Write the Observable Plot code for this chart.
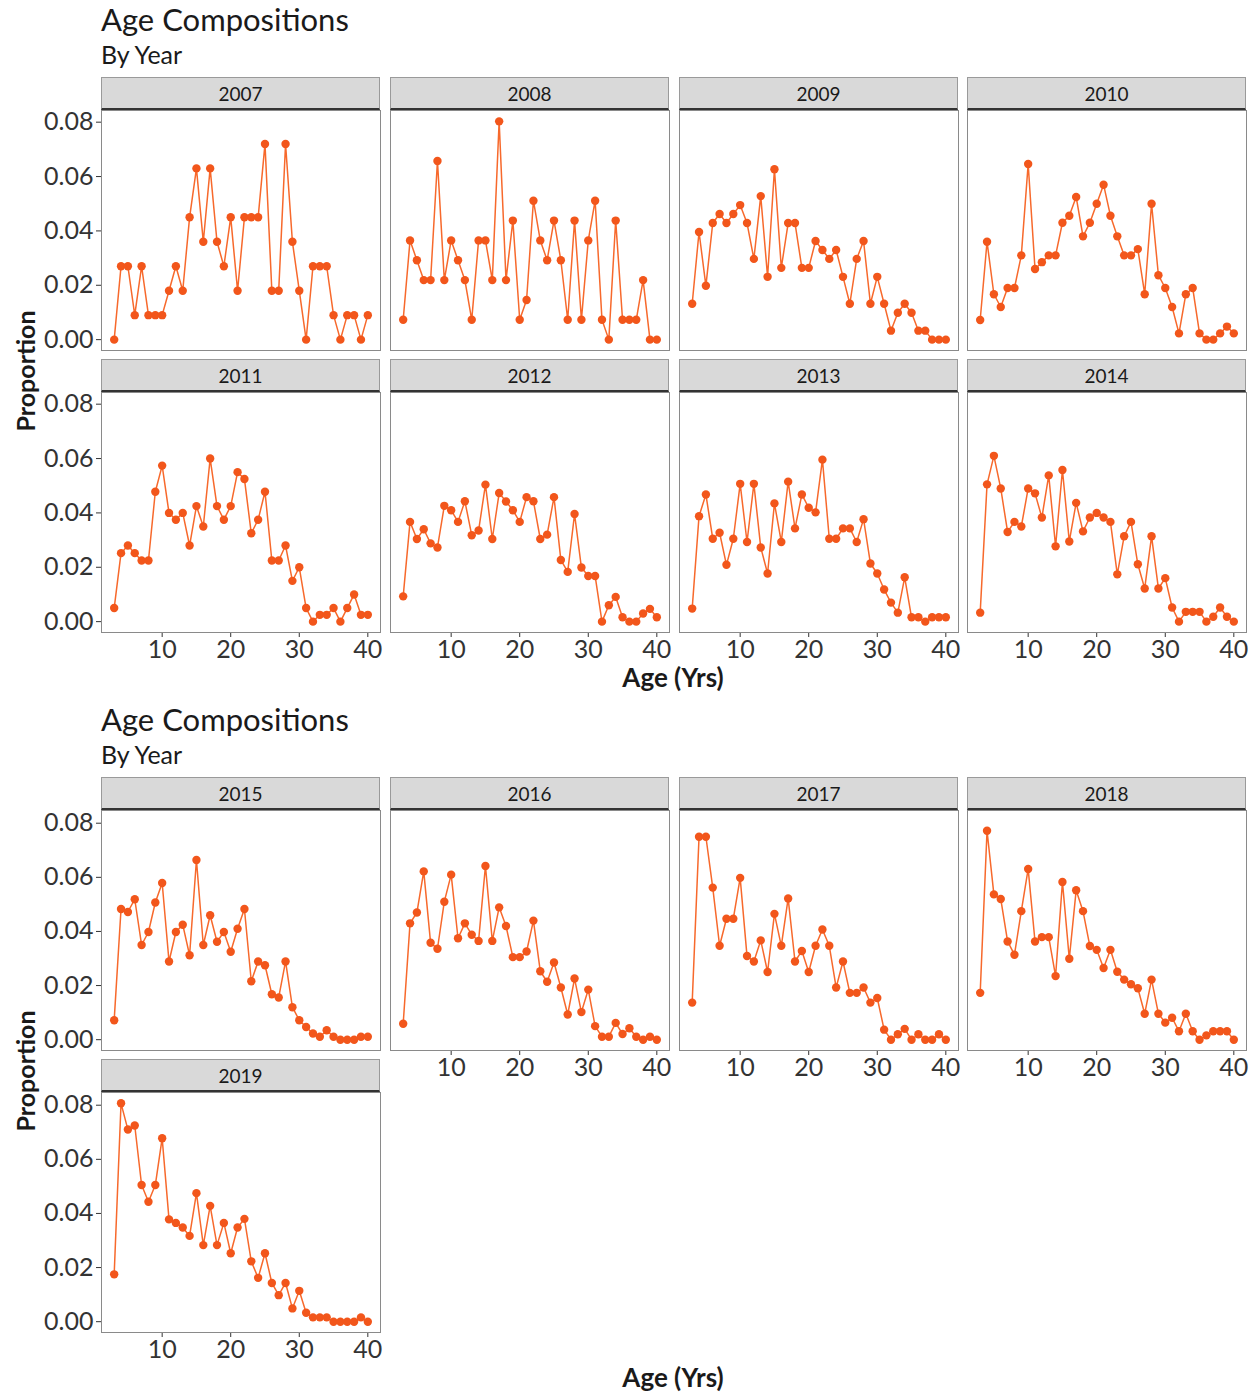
<!DOCTYPE html>
<html><head><meta charset="utf-8">
<script src="https://cdn.jsdelivr.net/npm/d3@7"></script>
<script src="https://cdn.jsdelivr.net/npm/@observablehq/plot@0.6"></script>
<style>
body{margin:0;background:#fff;}
#fig{position:relative;width:1257px;height:1395px;font-family:Lato,sans-serif;color:#1a1a1a;overflow:hidden;background:#fff}
.abs{position:absolute;white-space:nowrap}
.title{font-size:31px;line-height:31px;color:#1a1a1a}
.sub{font-size:25px;line-height:25px;color:#1a1a1a}
.strip{box-sizing:border-box;background:#d9d9d9;border:1px solid #9a9a9a;border-bottom:2px solid #333;font-size:19px;text-align:center;line-height:31px;color:#1a1a1a}
.ylab{font-size:25px;font-weight:bold;transform:translate(-50%,-50%) rotate(-90deg)}
.xlab{font-size:26px;font-weight:bold;transform:translate(-50%,-50%)}
</style></head><body><div id="fig"></div>
<script>
const ages = [3,4,5,6,7,8,9,10,11,12,13,14,15,16,17,18,19,20,21,22,23,24,25,26,27,28,29,30,31,32,33,34,35,36,37,38,39,40];
const xTicks = [10,20,30,40];
const yTicks = [0,0.02,0.04,0.06,0.08];

const p2007 = [0,0.027,0.027,0.009,0.027,0.009,0.009,0.009,0.018,0.027,0.018,0.045,0.063,0.036,0.063,0.036,0.027,0.045,0.018,0.045,0.045,0.045,0.072,0.018,0.018,0.072,0.036,0.018,0,0.027,0.027,0.027,0.009,0,0.009,0.009,0,0.009];
const p2008 = [0.0073,0.0365,0.0292,0.0219,0.0219,0.0657,0.0219,0.0365,0.0292,0.0219,0.0073,0.0365,0.0365,0.0219,0.0803,0.0219,0.0438,0.0073,0.0146,0.0511,0.0365,0.0292,0.0438,0.0292,0.0073,0.0438,0.0073,0.0365,0.0511,0.0073,0,0.0438,0.0073,0.0073,0.0073,0.0219,0,0];
const p2009 = [0.0132,0.0396,0.0198,0.0429,0.0462,0.0429,0.0462,0.0495,0.0429,0.0297,0.0528,0.0231,0.0627,0.0264,0.0429,0.0429,0.0264,0.0264,0.0363,0.033,0.0297,0.033,0.0231,0.0132,0.0297,0.0363,0.0132,0.0231,0.0132,0.0033,0.0099,0.0132,0.0099,0.0033,0.0033,0,0,0];
const p2010 = [0.0072,0.036,0.0167,0.012,0.019,0.019,0.031,0.0646,0.026,0.0285,0.031,0.031,0.043,0.0456,0.0525,0.038,0.043,0.05,0.057,0.0456,0.038,0.031,0.031,0.0333,0.0167,0.05,0.0237,0.019,0.012,0.0023,0.0167,0.019,0.0023,0,0,0.0023,0.0048,0.0023];
const p2011 = [0.005,0.0252,0.028,0.0252,0.0225,0.0225,0.0478,0.0574,0.04,0.0375,0.04,0.028,0.0425,0.035,0.06,0.0425,0.0375,0.0425,0.055,0.0525,0.0325,0.0375,0.0478,0.0225,0.0225,0.028,0.015,0.02,0.005,0,0.0025,0.0025,0.005,0,0.005,0.01,0.0025,0.0025];
const p2012 = [0.0093,0.0367,0.0304,0.034,0.0288,0.0273,0.0426,0.041,0.0367,0.0443,0.0318,0.0335,0.0504,0.0304,0.0473,0.0442,0.041,0.0367,0.0458,0.0443,0.0304,0.032,0.0458,0.0227,0.0183,0.0396,0.0199,0.0168,0.0168,0,0.006,0.0091,0.0016,0,0,0.003,0.0047,0.0016];
const p2013 = [0.0048,0.0388,0.0468,0.0305,0.0327,0.0209,0.0305,0.0507,0.0293,0.0507,0.0273,0.0177,0.0435,0.0293,0.0515,0.0343,0.0468,0.0419,0.0402,0.0596,0.0305,0.0305,0.0343,0.0343,0.0293,0.0377,0.0214,0.0177,0.0118,0.007,0.0033,0.0163,0.0016,0.0016,0,0.0016,0.0016,0.0016];
const p2014 = [0.0033,0.0505,0.061,0.049,0.033,0.0367,0.035,0.049,0.0472,0.0383,0.0538,0.0277,0.0558,0.0295,0.0437,0.0332,0.0383,0.04,0.0383,0.0367,0.0174,0.0314,0.0367,0.0211,0.0122,0.0314,0.0122,0.016,0.0052,0,0.0036,0.0036,0.0036,0,0.0018,0.0052,0.0018,0];
const p2015 = [0.0072,0.0483,0.0472,0.0519,0.035,0.0398,0.0507,0.0579,0.0289,0.0398,0.0425,0.0312,0.0664,0.035,0.046,0.0362,0.0398,0.0325,0.041,0.0483,0.0216,0.0289,0.0275,0.0168,0.0156,0.0289,0.012,0.0072,0.0047,0.0023,0.0011,0.0035,0.0011,0,0,0,0.0011,0.0011];
const p2016 = [0.0059,0.043,0.047,0.0622,0.0358,0.0336,0.051,0.061,0.0375,0.043,0.0388,0.0365,0.0642,0.0365,0.0489,0.042,0.0305,0.0305,0.0326,0.044,0.0253,0.0214,0.0285,0.0193,0.0093,0.0226,0.0102,0.0185,0.005,0.0011,0.0011,0.0062,0.0021,0.0042,0.0011,0,0.0011,0];
const p2017 = [0.0137,0.075,0.075,0.0562,0.0347,0.0447,0.0447,0.0598,0.0309,0.0289,0.0367,0.025,0.0465,0.0347,0.0522,0.0289,0.0328,0.025,0.0347,0.0407,0.0347,0.0193,0.0289,0.0173,0.0173,0.0193,0.0137,0.0154,0.0037,0,0.002,0.004,0,0.002,0,0,0.002,0];
const p2018 = [0.0173,0.0772,0.0537,0.052,0.0363,0.0314,0.0475,0.0631,0.0363,0.0379,0.0379,0.0235,0.0583,0.0299,0.0552,0.0475,0.0346,0.0332,0.0265,0.0332,0.0251,0.0222,0.0205,0.019,0.0096,0.0222,0.0096,0.0063,0.0081,0.0031,0.0096,0.0031,0,0.0016,0.0031,0.0031,0.0031,0];
const p2019 = [0.0175,0.0807,0.071,0.0725,0.0505,0.0443,0.0505,0.0678,0.0378,0.0365,0.0348,0.0317,0.0475,0.0283,0.0428,0.0283,0.0365,0.0253,0.0348,0.038,0.0223,0.0162,0.0253,0.0143,0.0098,0.0143,0.0049,0.0114,0.0033,0.0016,0.0016,0.0016,0,0,0,0,0.0016,0];

const figTitle = "Age Compositions";
const figSubtitle = "By Year";
const yTitle = "Proportion";
const xTitle = "Age (Yrs)";

// figure definitions: panels [year, values, col, row, showX]
const figures = [
  {offset: 0, yMax: 0.0843, panels: [
    ["2007", p2007, 0, 0, false], ["2008", p2008, 1, 0, false], ["2009", p2009, 2, 0, false], ["2010", p2010, 3, 0, false],
    ["2011", p2011, 0, 1, true], ["2012", p2012, 1, 1, true], ["2013", p2013, 2, 1, true], ["2014", p2014, 3, 1, true]
  ]},
  {offset: 700, yMax: 0.0847, panels: [
    ["2015", p2015, 0, 0, false], ["2016", p2016, 1, 0, true], ["2017", p2017, 2, 0, true], ["2018", p2018, 3, 0, true],
    ["2019", p2019, 0, 1, true]
  ]}
];

const fig = document.getElementById("fig");
const colX = [101, 390, 679, 967];
const rowY = [110, 392];
const PW = 279, PH = 240, STRIP = 33;
const ML = 80, MB = 50;

function el(cls, text, style) {
  const d = document.createElement("div");
  d.className = "abs " + cls;
  d.textContent = text;
  Object.assign(d.style, style);
  fig.appendChild(d);
  return d;
}

function panel(values, showX, showY, yMax) {
  const data = ages.map((a, i) => ({age: a, p: values[i]}));
  return Plot.plot({
    width: PW + ML, height: PH + MB,
    marginLeft: ML, marginRight: 0, marginTop: 0, marginBottom: MB,
    style: {background: "transparent", fontFamily: "Lato, sans-serif", fontSize: "25px", color: "#333", overflow: "visible", maxWidth: "none"},
    x: {domain: [1.15, 41.85], ticks: xTicks, axis: showX ? "bottom" : null, label: null, tickSize: 5, tickPadding: 3},
    y: {domain: [-0.004, yMax], ticks: yTicks, tickFormat: d3.format(".2f"), axis: showY ? "left" : null, label: null, tickSize: 5, tickPadding: 3},
    marks: [
      Plot.frame({stroke: "#8a8a8a"}),
      Plot.line(data, {x: "age", y: "p", stroke: "#f7692c", strokeWidth: 1.5}),
      Plot.dot(data, {x: "age", y: "p", r: 4.2, fill: "#f2561b"})
    ]
  });
}

for (const f of figures) {
  const o = f.offset;
  el("title", figTitle, {left: "101px", top: (4 + o) + "px"});
  el("sub", figSubtitle, {left: "101px", top: (42 + o) + "px"});
  for (const [year, vals, c, r, showX] of f.panels) {
    const x = colX[c], y = rowY[r] + o;
    el("strip", year, {left: x + "px", top: (y - STRIP) + "px", width: PW + "px", height: STRIP + "px"});
    const svg = panel(vals, showX, c === 0, f.yMax);
    svg.style.position = "absolute";
    svg.style.left = (x - ML) + "px";
    svg.style.top = y + "px";
    fig.appendChild(svg);
  }
  el("ylab", yTitle, {left: "25px", top: (371 + o) + "px"});
  el("xlab", xTitle, {left: "673px", top: (677 + o) + "px"});
}
</script></body></html>
